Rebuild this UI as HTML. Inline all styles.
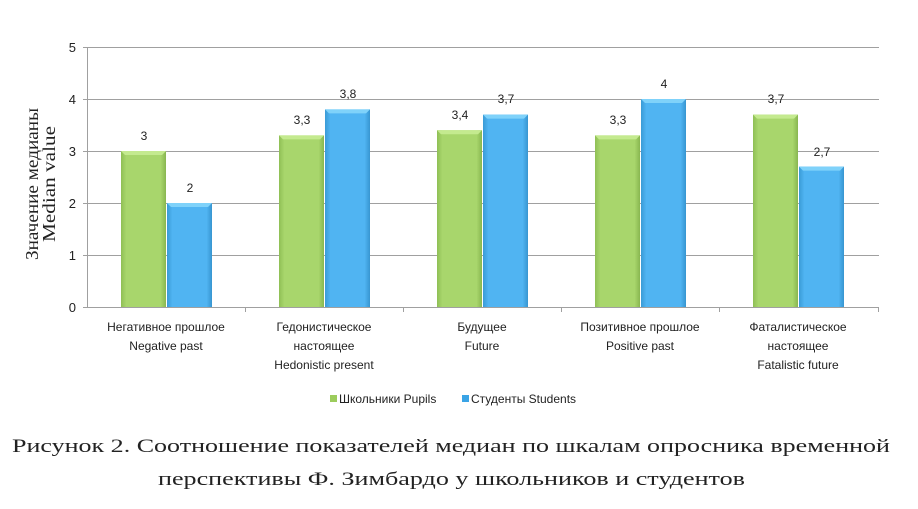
<!DOCTYPE html>
<html><head><meta charset="utf-8"><style>
body{margin:0;background:#fff;width:918px;height:504px;overflow:hidden}
</style></head><body>
<svg width="918" height="504" xmlns="http://www.w3.org/2000/svg" font-family="Liberation Sans, sans-serif">
<defs>
<linearGradient id="g" x1="0" x2="1"><stop offset="0" stop-color="#8fbf55"/><stop offset="0.12" stop-color="#a8d66c"/><stop offset="0.88" stop-color="#a8d66c"/><stop offset="1" stop-color="#88b650"/></linearGradient>
<linearGradient id="b" x1="0" x2="1"><stop offset="0" stop-color="#3a9bd6"/><stop offset="0.12" stop-color="#50b4f2"/><stop offset="0.88" stop-color="#50b4f2"/><stop offset="1" stop-color="#3795d0"/></linearGradient>
</defs>
<g stroke="#a0a0a0" stroke-width="1">
<line x1="83" y1="47.5" x2="879" y2="47.5"/>
<line x1="83" y1="99.5" x2="879" y2="99.5"/>
<line x1="83" y1="151.5" x2="879" y2="151.5"/>
<line x1="83" y1="203.5" x2="879" y2="203.5"/>
<line x1="83" y1="255.5" x2="879" y2="255.5"/>
<line x1="83" y1="307.5" x2="879" y2="307.5"/>
<line x1="87.5" y1="47" x2="87.5" y2="307"/>
<line x1="245.5" y1="307" x2="245.5" y2="312"/>
<line x1="403.5" y1="307" x2="403.5" y2="312"/>
<line x1="561.5" y1="307" x2="561.5" y2="312"/>
<line x1="719.5" y1="307" x2="719.5" y2="312"/>
<line x1="878.5" y1="307" x2="878.5" y2="312"/>
</g>
<g font-size="13" fill="#222" text-anchor="end">
<text x="76" y="52">5</text><text x="76" y="104">4</text><text x="76" y="156">3</text><text x="76" y="208">2</text><text x="76" y="260">1</text><text x="76" y="312">0</text>
</g>
<g font-family="Liberation Serif, serif" font-size="18" fill="#222" text-anchor="middle">
<text transform="translate(38,184) rotate(-90)" textLength="152" lengthAdjust="spacingAndGlyphs">Значение медианы</text>
<text transform="translate(55,184) rotate(-90)" textLength="116" lengthAdjust="spacingAndGlyphs">Median value</text>
</g>
<g>
<rect x="121" y="151" width="45" height="156" fill="url(#g)"/>
<rect x="167" y="203" width="45" height="104" fill="url(#b)"/>
<rect x="279" y="135.4" width="45" height="171.6" fill="url(#g)"/>
<rect x="325" y="109.4" width="45" height="197.6" fill="url(#b)"/>
<rect x="437" y="130.2" width="45" height="176.8" fill="url(#g)"/>
<rect x="483" y="114.6" width="45" height="192.4" fill="url(#b)"/>
<rect x="595" y="135.4" width="45" height="171.6" fill="url(#g)"/>
<rect x="641" y="99" width="45" height="208" fill="url(#b)"/>
<rect x="753" y="114.6" width="45" height="192.4" fill="url(#g)"/>
<rect x="799" y="166.6" width="45" height="140.4" fill="url(#b)"/>
</g>
<g fill="#c4ea8f">
<polygon points="121,151 166,151 162,155 125,155"/>
<polygon points="279,135.4 324,135.4 320,139.4 283,139.4"/>
<polygon points="437,130.2 482,130.2 478,134.2 441,134.2"/>
<polygon points="595,135.4 640,135.4 636,139.4 599,139.4"/>
<polygon points="753,114.6 798,114.6 794,118.6 757,118.6"/>
</g>
<g fill="#7fd2fa">
<polygon points="167,203 212,203 208,207 171,207"/>
<polygon points="325,109.4 370,109.4 366,113.4 329,113.4"/>
<polygon points="483,114.6 528,114.6 524,118.6 487,118.6"/>
<polygon points="641,99 686,99 682,103 645,103"/>
<polygon points="799,166.6 844,166.6 840,170.6 803,170.6"/>
</g>
<g font-size="12" fill="#222" text-anchor="middle">
<text x="144" y="140">3</text><text x="190" y="192">2</text>
<text x="302" y="124">3,3</text><text x="348" y="98">3,8</text>
<text x="460" y="119">3,4</text><text x="506" y="103">3,7</text>
<text x="618" y="124">3,3</text><text x="664" y="88">4</text>
<text x="776" y="103">3,7</text><text x="822" y="156">2,7</text>
</g>
<g font-size="12" fill="#222" text-anchor="middle">
<text x="166" y="331">Негативное прошлое</text><text x="166" y="350">Negative past</text>
<text x="324" y="331">Гедонистическое</text><text x="324" y="350">настоящее</text><text x="324" y="369">Hedonistic present</text>
<text x="482" y="331">Будущее</text><text x="482" y="350">Future</text>
<text x="640" y="331">Позитивное прошлое</text><text x="640" y="350">Positive past</text>
<text x="798" y="331">Фаталистическое</text><text x="798" y="350">настоящее</text><text x="798" y="369">Fatalistic future</text>
</g>
<rect x="330" y="395" width="7" height="7" fill="#9ccc5c"/>
<text x="339" y="403" font-size="12" fill="#222">Школьники Pupils</text>
<rect x="462" y="395" width="7" height="7" fill="#3aa4e6"/>
<text x="471" y="403" font-size="12" fill="#222">Студенты Students</text>
<g font-family="Liberation Serif, serif" font-size="19" fill="#222">
<text x="12" y="452" textLength="878" lengthAdjust="spacingAndGlyphs">Рисунок 2. Соотношение показателей медиан по шкалам опросника временной</text>
<text x="158" y="485" textLength="587" lengthAdjust="spacingAndGlyphs">перспективы Ф. Зимбардо у школьников и студентов</text>
</g>
</svg>
</body></html>
